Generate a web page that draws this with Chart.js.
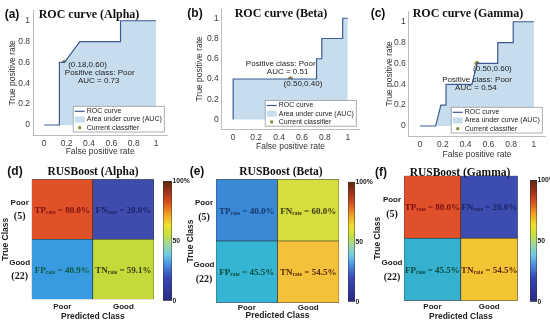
<!DOCTYPE html>
<html>
<head>
<meta charset="utf-8">
<script src="https://cdn.jsdelivr.net/npm/chart.js@4.4.0/dist/chart.umd.min.js"></script>
<style>
  body { margin: 0; width: 550px; height: 322px; position: relative; overflow: hidden; background: #fff; }
  canvas { position: absolute; }
  .lbl { position: absolute; transform: translate(-50%, -50%); white-space: nowrap; color: #111; }
  .letter { font: bold 12px "Liberation Sans", Arial, sans-serif; }
  .roc { font: bold 12px "Liberation Serif", "Times New Roman", serif; }
  .cm { font: bold 11.5px "Liberation Serif", "Times New Roman", serif; }
</style>
</head>
<body>
<script>
const SANS = '"Liberation Sans", Arial, sans-serif'
const SERIF = '"Liberation Serif", "Times New Roman", serif'

// ROC data (false positive rate / true positive rate)
const fprAlpha = [0, 0.136, 0.136, 0.182, 0.318, 0.682, 0.682, 1]
const tprAlpha = [0, 0, 0.6, 0.6, 0.8, 0.8, 1, 1]
const fprBeta = [0, 0, 0.727, 0.727, 0.773, 0.773, 0.955, 0.955, 1]
const tprBeta = [0, 0.4, 0.4, 0.6, 0.6, 0.8, 0.8, 1, 1]
const fprGamma = [0, 0.136, 0.182, 0.227, 0.227, 0.455, 0.5, 0.682, 0.682, 0.818, 0.818, 1]
const tprGamma = [0, 0, 0.2, 0.2, 0.4, 0.4, 0.6, 0.6, 0.8, 0.8, 1, 1]
const classifierAlpha = [0.18, 0.60]
const classifierBeta = [0.50, 0.40]
const classifierGamma = [0.50, 0.60]
const aucValues = [0.73, 0.51, 0.54]
const rocTicks = [0, 0.2, 0.4, 0.6, 0.8, 1]
const rocLegend = ["ROC curve", "Area under curve (AUC)", "Current classifier"]

// confusion matrices (rates in %)
const classNames = ["Poor", "Good"]
const classCounts = [5, 22]
const rateNames = [["TP", "FN"], ["FP", "TN"]]
const ratesAlpha = [[80.0, 20.0], [40.9, 59.1]]
const ratesBeta = [[40.0, 60.0], [45.5, 54.5]]
const ratesGamma = [[80.0, 20.0], [45.5, 54.5]]
const colorbarTicks = [0, 50, 100]

// colours
const lineColour = "#3d5a94"
const areaColour = "rgba(196,218,236,0.95)"
const markerColour = "#7c8a2c"
const colormapStops = [0, 0.2, 0.3, 0.38, 0.47, 0.55, 0.63, 0.72, 0.82, 0.91, 1]
const colormapColours = ["#2c2a85", "#3848b8", "#4a8ee0", "#6ec8e8", "#9ed8a0", "#c8e040", "#f0e030", "#f0a020", "#d85020", "#a03018", "#5a2a10"]

function addCanvas(b) {
  const c = document.createElement("canvas")
  c.width = b.w
  c.height = b.h
  c.style.left = b.left + "px"
  c.style.top = b.top + "px"
  document.body.append(c)
  return c
}

function addLabel(text, x, y, cls) {
  const d = document.createElement("div")
  d.className = "lbl " + cls
  d.style.left = x + "px"
  d.style.top = y + "px"
  d.textContent = text
  document.body.append(d)
}

function drawRoc(p) {
  const curve = p.fpr.map((x, i) => ({ x, y: p.tpr[i] }))
  const notes = [
    { text: `(${p.op[0].toFixed(2)},${p.op[1].toFixed(2)})`, at: p.notePos[0], align: "left" },
    { text: "Positive class: Poor", at: p.notePos[1], align: "center" },
    { text: `AUC = ${p.auc.toFixed(2)}`, at: p.notePos[2], align: "center" }
  ]

  const rocNotes = {
    id: "rocNotes",
    afterDraw(chart) {
      const { ctx, chartArea: area, scales: { x, y } } = chart
      ctx.save()
      ctx.font = `8px ${SANS}`
      ctx.fillStyle = "#222"
      ctx.textBaseline = "middle"
      notes.forEach(n => {
        ctx.textAlign = n.align
        ctx.fillText(n.text, x.getPixelForValue(n.at[0]), y.getPixelForValue(n.at[1]))
      })

      //Legend box in the lower right corner
      ctx.font = `7px ${SANS}`
      const textW = Math.max(...rocLegend.map(t => ctx.measureText(t).width))
      const boxW = 13.5 + textW + 2.5, boxH = 25.7
      const x1 = area.right - 3 - boxW, y1 = area.bottom - 3.4 - boxH
      ctx.fillStyle = "#fff"
      ctx.fillRect(x1, y1, boxW, boxH)
      ctx.strokeStyle = "#9a9a9a"
      ctx.lineWidth = 0.8
      ctx.strokeRect(x1, y1, boxW, boxH)
      rocLegend.forEach((t, i) => {
        const cy = y1 + 5 + i * 8.2
        if (i == 0) {
          ctx.strokeStyle = lineColour
          ctx.lineWidth = 1.2
          ctx.beginPath(); ctx.moveTo(x1 + 1.5, cy); ctx.lineTo(x1 + 11.5, cy); ctx.stroke()
        } else if (i == 1) {
          ctx.fillStyle = areaColour
          ctx.fillRect(x1 + 1.5, cy - 3, 10, 6)
        } else {
          ctx.fillStyle = markerColour
          ctx.beginPath(); ctx.arc(x1 + 6.5, cy, 1.6, 0, Math.PI * 2); ctx.fill()
        }
        ctx.fillStyle = "#222"
        ctx.textAlign = "left"
        ctx.fillText(t, x1 + 13.5, cy)
      })
      ctx.restore()
    }
  }

  const tickFont = { family: SANS, size: 8.5 }
  new Chart(addCanvas(p.box), {
    type: "scatter",
    data: {
      datasets: [
        { data: curve, showLine: true, borderColor: lineColour, borderWidth: 1.2, pointRadius: 0, fill: "origin", backgroundColor: areaColour },
        { data: [{ x: p.op[0], y: p.op[1] }], pointRadius: 2.2, pointBackgroundColor: markerColour, pointBorderColor: "#b07a3a", pointBorderWidth: 0.7 }
      ]
    },
    options: {
      responsive: false, animation: false, devicePixelRatio: 1,
      layout: { padding: { top: p.box.pt, right: p.box.pr, bottom: 0, left: 0 } },
      plugins: { legend: { display: false }, tooltip: { enabled: false } },
      scales: {
        x: {
          min: -0.1, max: 1.1,
          afterBuildTicks: s => { s.ticks = rocTicks.map(v => ({ value: v })) },
          afterFit: s => { s.height = p.box.xh },
          grid: { display: false, drawTicks: false },
          border: { display: true, color: "#bdbdbd", width: 1 },
          ticks: { font: tickFont, color: "#3a3a3a", padding: 3, maxRotation: 0, callback: v => String(Math.round(v * 10) / 10) },
          title: { display: true, text: "False positive rate", font: { family: SANS, size: 8.5 }, color: "#333", padding: { top: 0, bottom: p.box.xt } }
        },
        y: {
          min: -0.1, max: 1.1,
          afterBuildTicks: s => { s.ticks = rocTicks.map(v => ({ value: v })) },
          afterFit: s => { s.width = p.box.yw },
          grid: { display: false, drawTicks: false },
          border: { display: true, color: "#bdbdbd", width: 1 },
          ticks: { font: tickFont, color: "#3a3a3a", padding: 3, callback: v => String(Math.round(v * 10) / 10) },
          title: { display: true, text: "True positive rate", font: { family: SANS, size: 8.5 }, color: "#333", padding: { top: p.box.yt, bottom: 0 } }
        }
      }
    },
    plugins: [rocNotes]
  })
}

function drawRate(ctx, name, value, cx, cy, colour) {
  const big = `bold 9px ${SERIF}`, small = `bold 5.5px ${SERIF}`
  const tail = ` = ${value.toFixed(1)}%`
  ctx.font = big
  const w1 = ctx.measureText(name).width, w3 = ctx.measureText(tail).width
  ctx.font = small
  const w2 = ctx.measureText("rate").width
  let x = cx - (w1 + w2 + w3) / 2
  const base = cy + 3.5
  ctx.fillStyle = colour
  ctx.textAlign = "left"
  ctx.textBaseline = "alphabetic"
  ctx.font = big; ctx.fillText(name, x, base); x += w1
  ctx.font = small; ctx.fillText("rate", x, base + 1); x += w2
  ctx.font = big; ctx.fillText(tail, x, base)
}

function drawMatrix(p) {
  const rowOrder = [1, 0] //bottom row first for the stack
  const datasets = rowOrder.map(r => ({
    label: classNames[r],
    row: r,
    data: classNames.map(() => 1),
    backgroundColor: p.colours[r],
    borderColor: "#1f1f1f", borderWidth: 0.6, borderSkipped: false,
    barPercentage: 1, categoryPercentage: 1
  }))

  const cellText = {
    id: "cellText",
    afterDatasetsDraw(chart) {
      const { ctx, chartArea: area, scales: { y } } = chart
      ctx.save()
      chart.data.datasets.forEach((ds, di) => {
        chart.getDatasetMeta(di).data.forEach((bar, ci) => {
          drawRate(ctx, rateNames[ds.row][ci], p.rates[ds.row][ci], bar.x, (bar.y + bar.base) / 2, p.textColours[ds.row][ci])
        })
      })
      // row labels: class name and sample count
      ctx.textAlign = "center"
      ctx.textBaseline = "middle"
      ctx.fillStyle = "#1a1a1a"
      classNames.forEach((name, r) => {
        const cy = y.getPixelForValue(classNames.length - r - 0.5)
        const cx = area.left - 12
        ctx.font = `bold 8px ${SANS}`
        ctx.fillText(name, cx, cy - 7)
        ctx.font = `bold 10px ${SERIF}`
        ctx.fillText(`(${classCounts[r]})`, cx, cy + 7.5)
      })
      ctx.restore()
    }
  }

  new Chart(addCanvas(p.box), {
    type: "bar",
    data: { labels: classNames, datasets },
    options: {
      responsive: false, animation: false, devicePixelRatio: 1,
      layout: { padding: { top: p.box.pt, right: p.box.pr, bottom: 0, left: 0 } },
      plugins: { legend: { display: false }, tooltip: { enabled: false } },
      scales: {
        x: {
          stacked: true,
          afterFit: s => { s.height = p.box.xh },
          grid: { display: false, drawTicks: false }, border: { display: false },
          ticks: { font: { family: SANS, size: 8, weight: "bold" }, color: "#222", padding: p.box.tp },
          title: { display: true, text: "Predicted Class", font: { family: SANS, size: 8.5, weight: "bold" }, color: "#222", padding: { top: 0, bottom: p.box.xt } }
        },
        y: {
          stacked: true, min: 0, max: classNames.length,
          afterFit: s => { s.width = p.box.yw },
          grid: { display: false, drawTicks: false }, border: { display: false },
          ticks: { display: false },
          title: { display: true, text: "True Class", font: { family: SANS, size: 8.5, weight: "bold" }, color: "#222", padding: { top: 0.5, bottom: 0 } }
        }
      }
    },
    plugins: [cellText]
  })

  // colour bar
  const cb = p.bar
  new Chart(addCanvas({ left: cb.left - 2, top: 170, w: cb.w + 26, h: 140 }), {
    type: "bar",
    data: {
      labels: [""],
      datasets: [{
        data: [colorbarTicks[colorbarTicks.length - 1]],
        backgroundColor: ctx => {
          const a = ctx.chart.chartArea
          if (!a) return "transparent"
          const g = ctx.chart.ctx.createLinearGradient(0, a.bottom, 0, a.top)
          colormapStops.forEach((s, i) => g.addColorStop(s, colormapColours[i]))
          return g
        },
        borderColor: "#333", borderWidth: 0.8, borderSkipped: false,
        barPercentage: 1, categoryPercentage: 1
      }]
    },
    options: {
      responsive: false, animation: false, devicePixelRatio: 1,
      layout: { padding: { top: cb.top - 170, right: 0, bottom: 310 - cb.bottom, left: 2 } },
      plugins: { legend: { display: false }, tooltip: { enabled: false } },
      scales: {
        x: { display: false },
        y: {
          position: "right", min: 0, max: 100,
          afterBuildTicks: s => { s.ticks = colorbarTicks.map(v => ({ value: v })) },
          afterFit: s => { s.width = 24 },
          grid: { display: false, drawTicks: false }, border: { display: false },
          ticks: { font: { family: SANS, size: 6.8, weight: "bold" }, color: "#222", padding: 0.5, callback: v => v == 100 ? "100%" : String(v) }
        }
      }
    }
  })
}

drawRoc({ fpr: fprAlpha, tpr: tprAlpha, op: classifierAlpha, auc: aucValues[0],
  notePos: [[0.214, 0.575], [0.496, 0.499], [0.487, 0.42]],
  box: { left: 0, top: 0, w: 172, h: 160, yw: 33, xh: 24.6, pt: 10.3, pr: 3.3, yt: 7.6, xt: 2.9 } })
drawRoc({ fpr: fprBeta, tpr: tprBeta, op: classifierBeta, auc: aucValues[1],
  notePos: [[0.44, 0.35], [0.415, 0.552], [0.475, 0.47]],
  box: { left: 188, top: 0, w: 176, h: 155, yw: 33.7, xh: 25.4, pt: 5.7, pr: 3.4, yt: 6.9, xt: 3.2 } })
drawRoc({ fpr: fprGamma, tpr: tprGamma, op: classifierGamma, auc: aucValues[2],
  notePos: [[0.465, 0.547], [0.5, 0.44], [0.49, 0.37]],
  box: { left: 368, top: 0, w: 182, h: 160, yw: 40.8, xh: 23.6, pt: 11.3, pr: 0.6, yt: 16.9, xt: 0.6 } })

drawMatrix({ rates: ratesAlpha,
  colours: [["#e0512a", "#3f4cae"], ["#389be0", "#c5d93b"]],
  textColours: [["#7a1010", "#1b2466"], ["#0d5a40", "#3b3a10"]],
  box: { left: 0, top: 160, w: 158, h: 162, yw: 31.7, xh: 22.7, pt: 19.3, pr: 4, xt: 0.6, tp: 2.2 },
  bar: { left: 163.3, w: 9, top: 181, bottom: 300.7 } })
drawMatrix({ rates: ratesBeta,
  colours: [["#3a88d6", "#d5dd3f"], ["#35b5d3", "#f3c23a"]],
  textColours: [["#143a6a", "#3a3a10"], ["#0d4a3a", "#5a2a05"]],
  box: { left: 185, top: 160, w: 158, h: 162, yw: 31, xh: 19.3, pt: 19.3, pr: 4, xt: 1.2, tp: 0.5 },
  bar: { left: 348.3, w: 7.4, top: 181.7, bottom: 301.7 } })
drawMatrix({ rates: ratesGamma,
  colours: [["#e0502a", "#3d4cb0"], ["#35b0cf", "#f3c433"]],
  textColours: [["#7a1010", "#1b2466"], ["#0d4a3a", "#5a2a05"]],
  box: { left: 372, top: 160, w: 150, h: 162, yw: 32, xh: 21.3, pt: 15.7, pr: 4.3, xt: 0.5, tp: 1 },
  bar: { left: 530, w: 7.3, top: 180, bottom: 301.7 } })

// panel letters and titles
addLabel("(a)", 12, 14, "letter")
addLabel("(b)", 195, 13, "letter")
addLabel("(c)", 378, 13, "letter")
addLabel("(d)", 15, 171, "letter")
addLabel("(e)", 197, 171, "letter")
addLabel("(f)", 381, 172, "letter")
addLabel("ROC curve (Alpha)", 89, 14, "roc")
addLabel("ROC curve (Beta)", 281, 13, "roc")
addLabel("ROC curve (Gamma)", 468, 13, "roc")
addLabel("RUSBoost (Alpha)", 93, 171, "cm")
addLabel("RUSBoost (Beta)", 281, 171, "cm")
addLabel("RUSBoost (Gamma)", 460, 172, "cm")
</script>
</body>
</html>
